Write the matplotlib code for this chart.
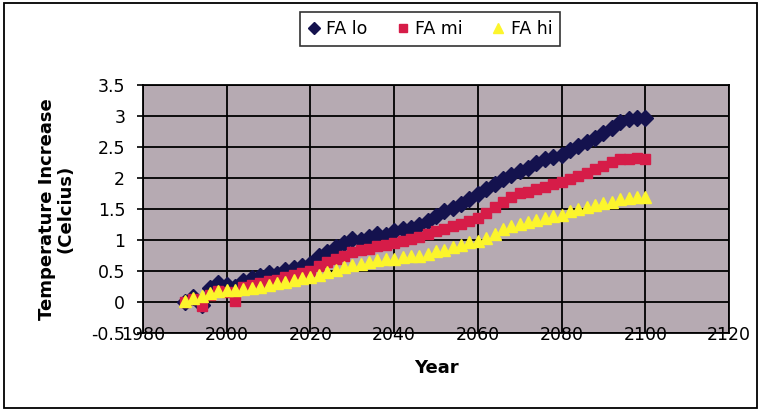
import matplotlib
matplotlib.use("Agg")
import matplotlib.pyplot as plt
from matplotlib.patches import Rectangle

plt.rcParams['font.family'] = ['DejaVu Sans']

# === data (every 2 years) ===
years = list(range(1990, 2101, 2))

fa_lo = [0.00, 0.08, -0.05, 0.22, 0.30, 0.28, 0.25, 0.34, 0.38, 0.42,
         0.47, 0.45, 0.52, 0.55, 0.58, 0.62, 0.75, 0.80, 0.88, 0.95,
         1.02, 1.00, 1.05, 1.10, 1.08, 1.14, 1.18, 1.20, 1.24, 1.30,
         1.38, 1.47, 1.52, 1.58, 1.66, 1.74, 1.82, 1.90, 1.98, 2.05,
         2.12, 2.16, 2.24, 2.30, 2.34, 2.37, 2.45, 2.52, 2.58, 2.65,
         2.72, 2.80, 2.90, 2.95, 2.97, 2.96]

fa_mi = [0.00, 0.05, -0.06, 0.12, 0.18, 0.16, 0.02, 0.24, 0.28, 0.30,
         0.34, 0.36, 0.40, 0.44, 0.47, 0.50, 0.58, 0.64, 0.70, 0.75,
         0.80, 0.84, 0.86, 0.90, 0.92, 0.95, 0.98, 1.02, 1.05, 1.10,
         1.14, 1.18, 1.22, 1.26, 1.30, 1.36, 1.44, 1.54, 1.62, 1.70,
         1.75, 1.78, 1.82, 1.86, 1.90, 1.94, 1.98, 2.03, 2.08, 2.14,
         2.20, 2.25, 2.30, 2.31, 2.33, 2.30]

fa_hi = [0.02, 0.07, 0.10, 0.14, 0.17, 0.19, 0.20, 0.21, 0.23, 0.25,
         0.27, 0.30, 0.33, 0.36, 0.38, 0.40, 0.43, 0.48, 0.52, 0.56,
         0.59, 0.62, 0.65, 0.67, 0.69, 0.70, 0.72, 0.74, 0.75, 0.78,
         0.82, 0.84, 0.88, 0.92, 0.96, 0.99, 1.04, 1.10, 1.17, 1.22,
         1.26, 1.29, 1.33, 1.36, 1.38, 1.40, 1.46, 1.50, 1.53, 1.56,
         1.59, 1.62, 1.66, 1.68, 1.70, 1.70]

x_ticks = list(range(1980, 2121, 20))
y_ticks = [-0.5, 0, 0.5, 1, 1.5, 2, 2.5, 3, 3.5]
y_labels = ['-0.5', '0', '0.5', '1', '1.5', '2', '2.5', '3', '3.5']

# === figure ===
fig = plt.figure(figsize=(7.58, 4.11), dpi=100)
ax = fig.add_axes([143 / 758, 1 - 333 / 411, 586 / 758, 248 / 411])
ax.set_facecolor('#b6aab2')

ax.plot(years, fa_lo, linestyle='none', marker='D', markersize=8,
        color='#14124e', label='FA lo')
ax.plot(years, fa_mi, linestyle='none', marker='s', markersize=7.5,
        color='#d61c48', label='FA mi')
ax.plot(years, fa_hi, linestyle='none', marker='^', markersize=9,
        color='#fcf52c', label='FA hi')

ax.set_xlim(1980, 2120)
ax.set_ylim(-0.5, 3.5)
ax.set_xticks(x_ticks)
ax.set_yticks(y_ticks)
ax.set_yticklabels(y_labels)
ax.grid(True, color='black', linewidth=1.3)
ax.set_axisbelow(True)
for sp in ax.spines.values():
    sp.set_color('black')
    sp.set_linewidth(1.3)

ax.tick_params(axis='x', length=0, pad=-5, labelsize=12.5)
ax.tick_params(axis='y', length=4.3, width=1.2, pad=8.5, labelsize=12.5)

ax.set_xlabel('Year', fontsize=13, fontweight='bold', labelpad=11)
ax.set_ylabel('Temperature Increase\n(Celcius)', fontsize=13,
              fontweight='bold', labelpad=12, linespacing=1.05)

leg = fig.legend(loc='upper center', bbox_to_anchor=(430 / 758, 1 - 12 / 411),
                 ncol=3, frameon=True, fancybox=False, fontsize=12.5,
                 handlelength=0.7, handletextpad=0.35, columnspacing=1.7,
                 borderpad=0.45, borderaxespad=0, markerscale=0.75)
leg.get_frame().set_edgecolor('black')
leg.get_frame().set_linewidth(1.2)

# outer chart border
fig.patches.append(Rectangle((4 / 758, 3 / 411), 753 / 758, 405 / 411,
                             transform=fig.transFigure, fill=False,
                             edgecolor='black', linewidth=1.3))

fig.savefig('out.png', dpi=100)
